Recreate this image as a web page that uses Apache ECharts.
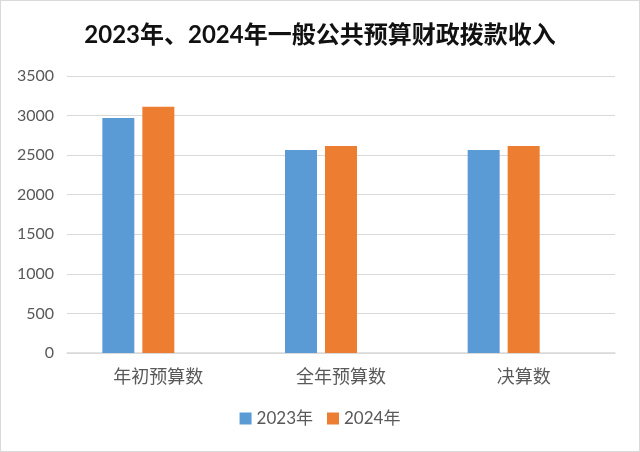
<!DOCTYPE html>
<html>
<head>
<meta charset="utf-8">
<script src="https://cdn.jsdelivr.net/npm/echarts@6/dist/echarts.min.js"></script>
<style>
  html, body { margin: 0; padding: 0; background: #fff; }
  #chart { width: 640px; height: 452px; box-sizing: border-box; border: 1px solid #d9d9d9; }
</style>
</head>
<body>
<div id="chart"></div>
<script>
  // 数据
  var categories = ['年初预算数', '全年预算数', '决算数']
  var seriesNames = ['2023年', '2024年']
  var values2023 = [2970, 2565, 2565]
  var values2024 = [3110, 2615, 2615]
  var yTicks = [0, 500, 1000, 1500, 2000, 2500, 3000, 3500]

  var font = "Lato, 'Noto Sans CJK SC', sans-serif"
  var myChart = echarts.init(document.getElementById('chart'))

  var option = {
    backgroundColor: '#fff',
    animation: false,
    title: {
      text: '2023年、2024年一般公共预算财政拨款收入',
      left: 'center',
      top: 17,
      textStyle: { fontFamily: font, fontSize: 24, fontWeight: 'bold', color: '#111' }
    },
    legend: {
      data: seriesNames,
      bottom: 19,
      left: 'center',
      itemWidth: 12,
      itemHeight: 12,
      itemGap: 14,
      icon: 'rect',
      textStyle: { fontFamily: font, fontSize: 17, color: '#595959' }
    },
    grid: { left: 66, right: 24, top: 75, bottom: 98 },
    xAxis: {
      type: 'category',
      data: categories,
      axisTick: { show: false },
      axisLine: { lineStyle: { color: '#d9d9d9', width: 1.5 } },
      axisLabel: { fontFamily: font, fontSize: 18, color: '#595959', margin: 15 }
    },
    yAxis: {
      type: 'value',
      min: yTicks[0],
      max: yTicks[yTicks.length - 1],
      interval: 500,
      axisLine: { show: false },
      axisTick: { show: false },
      splitLine: { lineStyle: { color: '#d9d9d9', width: 1 } },
      axisLabel: {
        fontFamily: font, fontSize: 16, color: '#595959', margin: 13,
        formatter: function (v) { return String(v) }
      }
    },
    series: [
      { name: seriesNames[0], type: 'bar', data: values2023, barWidth: 32, barGap: '25%', itemStyle: { color: '#5b9bd5' } },
      { name: seriesNames[1], type: 'bar', data: values2024, barWidth: 32, barGap: '25%', itemStyle: { color: '#ed7d31' } },
      // 空系列，占位
      { name: '', type: 'bar', data: [], barWidth: 32, barGap: '25%' }
    ]
  }

  myChart.setOption(option)
</script>
</body>
</html>
